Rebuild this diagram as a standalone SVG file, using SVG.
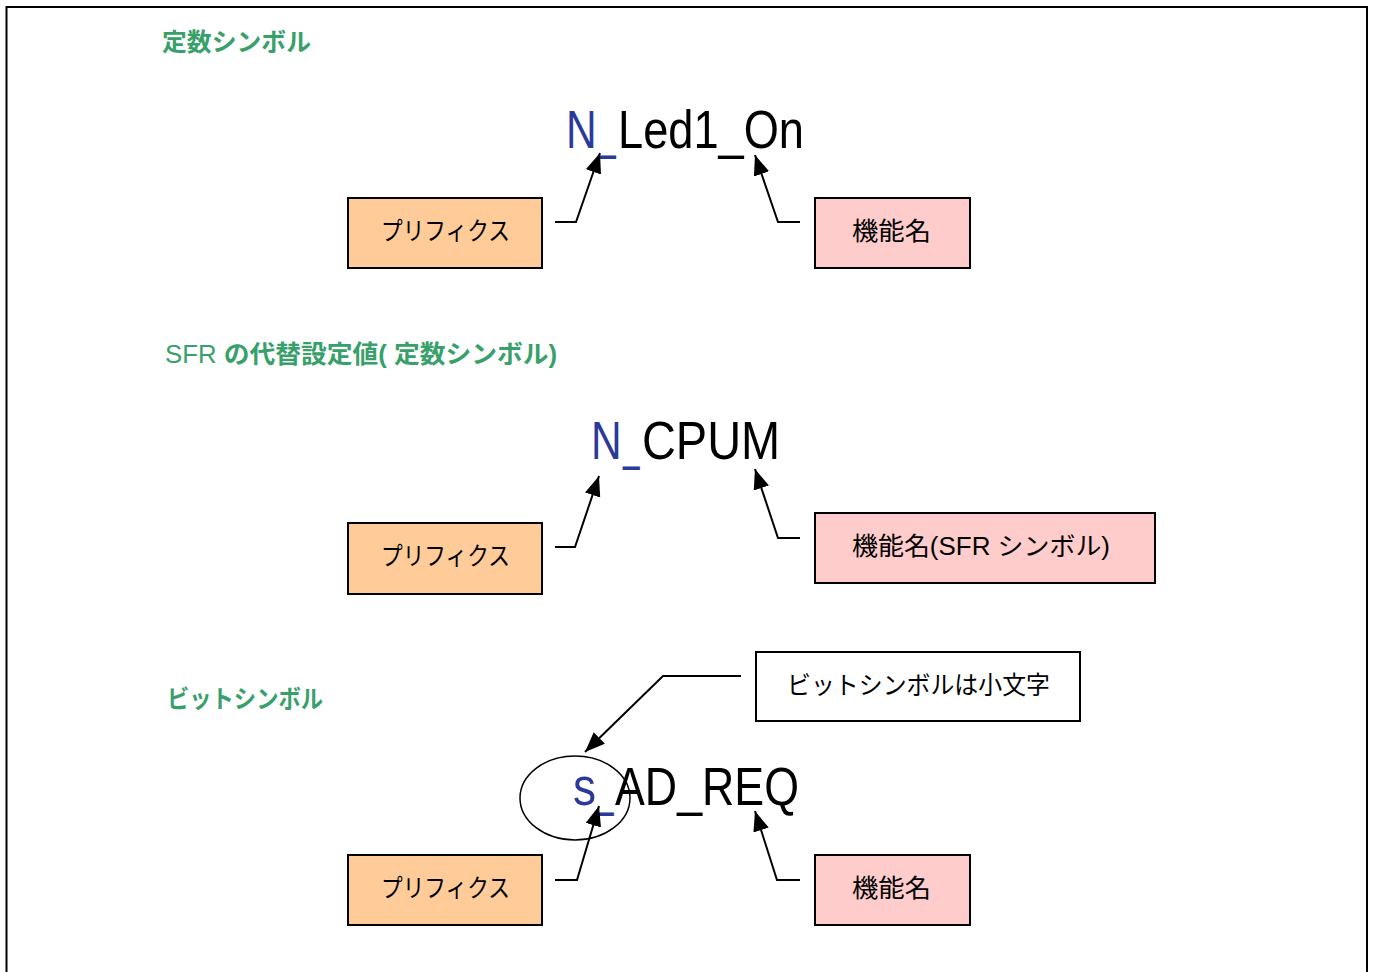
<svg xmlns="http://www.w3.org/2000/svg" width="1374" height="972" viewBox="0 0 1374 972">
<style>
.title{font-family:"Liberation Sans","Noto Sans CJK JP",sans-serif;font-weight:bold;fill:#38a06a;font-size:25px}
.big{font-family:"Liberation Sans","Noto Sans CJK JP",sans-serif;font-size:53px;fill:#000}
.blue{fill:#2b3a9a}
.lbl{font-family:"Liberation Sans","Noto Sans CJK JP",sans-serif;font-size:25px;fill:#000}
.pre{fill:#ffcc99;stroke:#000;stroke-width:2}
.fn{fill:#ffcccc;stroke:#000;stroke-width:2}
.note{fill:#fff;stroke:#000;stroke-width:2}
.conn{fill:none;stroke:#000;stroke-width:2;marker-end:url(#arr)}
</style>
<defs>
<marker id="arr" markerUnits="userSpaceOnUse" markerWidth="22" markerHeight="18" refX="20" refY="8" orient="auto">
<path d="M0,0 L20,8 L0,16 z" fill="#000"/>
</marker>
</defs>
<rect x="6.5" y="7" width="1360.5" height="980" fill="#fff" stroke="#000" stroke-width="2"/>

<g id="title1"><text class="title" x="162" y="51" textLength="149" lengthAdjust="spacingAndGlyphs">定数シンボル</text></g>
<g id="title2"><text class="title" x="165" y="363" textLength="392" lengthAdjust="spacingAndGlyphs"><tspan font-weight="normal">SFR</tspan> の代替設定値( 定数シンボル)</text></g>
<g id="title3"><text class="title" x="167" y="708" textLength="156" lengthAdjust="spacingAndGlyphs">ビットシンボル</text></g>

<g id="sym1">
<text class="big blue" transform="translate(566,148) scale(0.8,1)">N</text>
<text class="big blue" transform="translate(599,148) scale(0.57,1)">_</text>
<text class="big" transform="translate(618,148) scale(0.853,1)">Led1_On</text>
</g>
<g id="sym2">
<text class="big blue" transform="translate(591,459) scale(0.8,1)">N</text>
<text class="big blue" transform="translate(623,459) scale(0.56,1)">_</text>
<text class="big" transform="translate(642,459) scale(0.885,1)">CPUM</text>
</g>
<g id="sym3">
<text class="big blue" transform="translate(573,805) scale(0.87,1)">s</text>
<text class="big blue" transform="translate(597,805) scale(0.56,1)">_</text>
<text class="big" transform="translate(615,805) scale(0.844,1)">AD_REQ</text>
<ellipse cx="575" cy="798" rx="55" ry="42" fill="none" stroke="#000" stroke-width="1.5"/>
</g>

<g id="pre1"><rect class="pre" x="348" y="198" width="194" height="70"/><text class="lbl" x="381" y="240" textLength="129" lengthAdjust="spacingAndGlyphs">プリフィクス</text></g>
<g id="fn1"><rect class="fn" x="815" y="198" width="155" height="70"/><text class="lbl" x="852" y="240" textLength="79" lengthAdjust="spacingAndGlyphs">機能名</text></g>
<g id="pre2"><rect class="pre" x="348" y="523" width="194" height="71"/><text class="lbl" x="381" y="565" textLength="129" lengthAdjust="spacingAndGlyphs">プリフィクス</text></g>
<g id="fn2"><rect class="fn" x="815" y="513" width="340" height="70"/><text class="lbl" x="852" y="555" textLength="258" lengthAdjust="spacingAndGlyphs">機能名(SFR シンボル)</text></g>
<g id="note"><rect class="note" x="756" y="652" width="324" height="69"/><text class="lbl" x="787" y="694" textLength="263" lengthAdjust="spacingAndGlyphs">ビットシンボルは小文字</text></g>
<g id="pre3"><rect class="pre" x="348" y="855" width="194" height="70"/><text class="lbl" x="381" y="897" textLength="129" lengthAdjust="spacingAndGlyphs">プリフィクス</text></g>
<g id="fn3"><rect class="fn" x="815" y="855" width="155" height="70"/><text class="lbl" x="852" y="897" textLength="79" lengthAdjust="spacingAndGlyphs">機能名</text></g>

<g id="connectors">
<polyline class="conn" points="555,222 576,222 600,153"/>
<polyline class="conn" points="800,222 778,222 755,155"/>
<polyline class="conn" points="555,547 575,547 599,476"/>
<polyline class="conn" points="800,538 778,538 755,469"/>
<polyline class="conn" points="741,676 663,676 585,752"/>
<polyline class="conn" points="555,880 577,880 599,806"/>
<polyline class="conn" points="800,880 777,880 755,811"/>
</g>
</svg>
